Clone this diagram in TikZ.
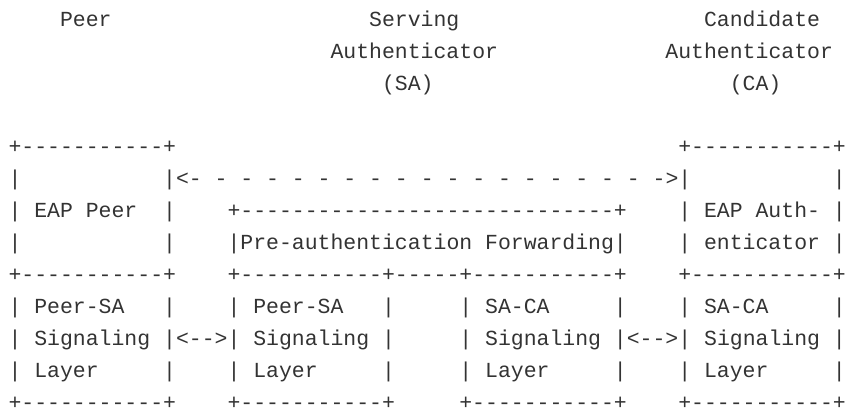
\documentclass[tikz,border=0pt]{standalone}
\usepackage{fontspec}
\setmonofont{Liberation Mono}
\definecolor{asciigray}{RGB}{51,51,51}
\tikzset{
  asciitxt/.style={anchor=base west, inner sep=0pt, outer sep=0pt, text=asciigray,
    text depth=0pt, font=\ttfamily\fontsize{21.47}{32}\selectfont}
}
% #1 name, #2 column, #3 row, #4 text
\newcommand\atxt[4]{\node[asciitxt] (#1) at ({8.56+#2*12.88},{-(26.2+#3*31.9)}) {#4};}
\begin{document}
\begin{tikzpicture}[x=1pt,y=1pt]
\useasboundingbox (0,0) rectangle (847,-413);
% headers
\atxt{hpeer}{4}{0}{Peer}
\atxt{hserv}{28}{0}{Serving}
\atxt{hcand}{54}{0}{Candidate}
\atxt{hsaauth}{25}{1}{Authenticator}
\atxt{hcaauth}{51}{1}{Authenticator}
\atxt{hsa}{29}{2}{(SA)}
\atxt{hca}{56}{2}{(CA)}
% row 4
\atxt{r4a}{0}{4}{+-----------+}
\atxt{r4b}{52}{4}{+-----------+}
% row 5
\atxt{r5a}{0}{5}{|}
\atxt{r5b}{12}{5}{|<- - - - - - - - - - - - - - - - - - ->|}
\atxt{r5c}{64}{5}{|}
% row 6
\atxt{r6a}{0}{6}{| EAP Peer}
\atxt{r6b}{12}{6}{|}
\atxt{r6c}{17}{6}{+-----------------------------+}
\atxt{r6d}{52}{6}{| EAP Auth- |}
% row 7
\atxt{r7a}{0}{7}{|}
\atxt{r7b}{12}{7}{|}
\atxt{r7c}{17}{7}{|Pre-authentication Forwarding|}
\atxt{r7d}{52}{7}{| enticator |}
% row 8
\atxt{r8a}{0}{8}{+-----------+}
\atxt{r8b}{17}{8}{+-----------+-----+-----------+}
\atxt{r8c}{52}{8}{+-----------+}
% row 9
\atxt{r9a}{0}{9}{| Peer-SA}
\atxt{r9b}{12}{9}{|}
\atxt{r9c}{17}{9}{| Peer-SA}
\atxt{r9d}{29}{9}{|}
\atxt{r9e}{35}{9}{| SA-CA}
\atxt{r9f}{47}{9}{|}
\atxt{r9g}{52}{9}{| SA-CA}
\atxt{r9h}{64}{9}{|}
% row 10
\atxt{r10a}{0}{10}{| Signaling |<-->| Signaling |}
\atxt{r10b}{35}{10}{| Signaling |<-->| Signaling |}
% row 11
\atxt{r11a}{0}{11}{| Layer}
\atxt{r11b}{12}{11}{|}
\atxt{r11c}{17}{11}{| Layer}
\atxt{r11d}{29}{11}{|}
\atxt{r11e}{35}{11}{| Layer}
\atxt{r11f}{47}{11}{|}
\atxt{r11g}{52}{11}{| Layer}
\atxt{r11h}{64}{11}{|}
% row 12
\atxt{r12a}{0}{12}{+-----------+}
\atxt{r12b}{17}{12}{+-----------+}
\atxt{r12c}{35}{12}{+-----------+}
\atxt{r12d}{52}{12}{+-----------+}
\end{tikzpicture}
\end{document}
